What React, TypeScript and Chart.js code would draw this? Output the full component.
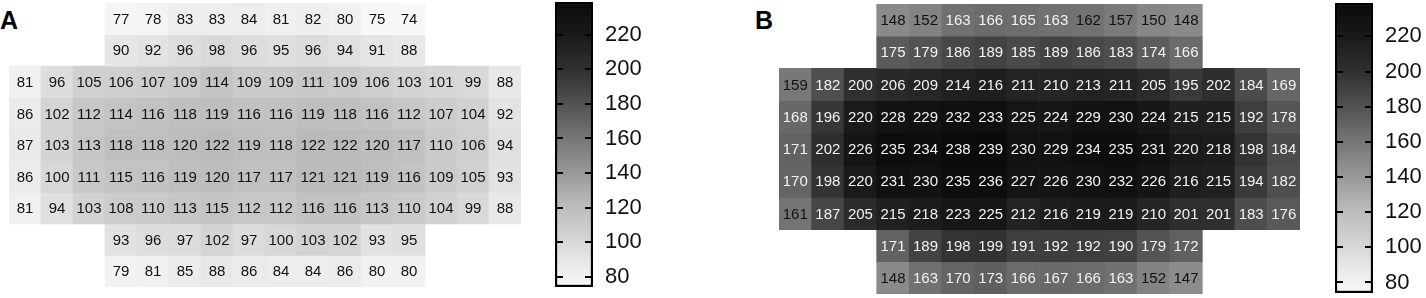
import React, { useEffect, useRef } from 'react';
import { Chart, registerables } from 'chart.js';
Chart.register(...registerables);

const FONT = '"Liberation Sans", Arial, Helvetica, sans-serif';

const COLUMNS = ['1', '2', '3', '4', '5', '6', '7', '8', '9', '10', '11', '12', '13', '14', '15', '16'];
const _ = null;

// Panel A
const A_ROW1 = [_, _, _, 77, 78, 83, 83, 84, 81, 82, 80, 75, 74, _, _, _];
const A_ROW2 = [_, _, _, 90, 92, 96, 98, 96, 95, 96, 94, 91, 88, _, _, _];
const A_ROW3 = [81, 96, 105, 106, 107, 109, 114, 109, 109, 111, 109, 106, 103, 101, 99, 88];
const A_ROW4 = [86, 102, 112, 114, 116, 118, 119, 116, 116, 119, 118, 116, 112, 107, 104, 92];
const A_ROW5 = [87, 103, 113, 118, 118, 120, 122, 119, 118, 122, 122, 120, 117, 110, 106, 94];
const A_ROW6 = [86, 100, 111, 115, 116, 119, 120, 117, 117, 121, 121, 119, 116, 109, 105, 93];
const A_ROW7 = [81, 94, 103, 108, 110, 113, 115, 112, 112, 116, 116, 113, 110, 104, 99, 88];
const A_ROW8 = [_, _, _, 93, 96, 97, 102, 97, 100, 103, 102, 93, 95, _, _, _];
const A_ROW9 = [_, _, _, 79, 81, 85, 88, 86, 84, 84, 86, 80, 80, _, _, _];

// Panel B
const B_ROW1 = [_, _, _, 148, 152, 163, 166, 165, 163, 162, 157, 150, 148, _, _, _];
const B_ROW2 = [_, _, _, 175, 179, 186, 189, 185, 189, 186, 183, 174, 166, _, _, _];
const B_ROW3 = [159, 182, 200, 206, 209, 214, 216, 211, 210, 213, 211, 205, 195, 202, 184, 169];
const B_ROW4 = [168, 196, 220, 228, 229, 232, 233, 225, 224, 229, 230, 224, 215, 215, 192, 178];
const B_ROW5 = [171, 202, 226, 235, 234, 238, 239, 230, 229, 234, 235, 231, 220, 218, 198, 184];
const B_ROW6 = [170, 198, 220, 231, 230, 235, 236, 227, 226, 230, 232, 226, 216, 215, 194, 182];
const B_ROW7 = [161, 187, 205, 215, 218, 223, 225, 212, 216, 219, 219, 210, 201, 201, 183, 176];
const B_ROW8 = [_, _, _, 171, 189, 198, 199, 191, 192, 192, 190, 179, 172, _, _, _];
const B_ROW9 = [_, _, _, 148, 163, 170, 173, 166, 167, 166, 163, 152, 147, _, _, _];

const A_ROWS = [A_ROW1, A_ROW2, A_ROW3, A_ROW4, A_ROW5, A_ROW6, A_ROW7, A_ROW8, A_ROW9];
const B_ROWS = [B_ROW1, B_ROW2, B_ROW3, B_ROW4, B_ROW5, B_ROW6, B_ROW7, B_ROW8, B_ROW9];

// Colour scale
const SCALE_MIN = 74;
const SCALE_MAX = 239;
const COLORBAR_TICKS = [80, 100, 120, 140, 160, 180, 200, 220];
const TEXT_WHITE_FROM = 163;

// colormap anchors (value -> grey level)
const CMAP_VALUES = [74, 90, 105, 122, 148, 160, 180, 200, 220, 239];
const CMAP_GREYS = [248, 230, 208, 186, 138, 118, 82, 48, 26, 10];

function greyFor(v: number): number {
  if (v <= CMAP_VALUES[0]) return CMAP_GREYS[0];
  for (let i = 1; i < CMAP_VALUES.length; i++) {
    if (v <= CMAP_VALUES[i]) {
      const t = (v - CMAP_VALUES[i - 1]) / (CMAP_VALUES[i] - CMAP_VALUES[i - 1]);
      return CMAP_GREYS[i - 1] + t * (CMAP_GREYS[i] - CMAP_GREYS[i - 1]);
    }
  }
  return CMAP_GREYS[CMAP_GREYS.length - 1];
}
function colorFor(v: number): string {
  const g = Math.round(greyFor(v));
  return `rgb(${g},${g},${g})`;
}

type HeatProps = { rows: (number | null)[][]; left: number; top: number; width: number; height: number };

function Heatmap({ rows, left, top, width, height }: HeatProps) {
  const ref = useRef<HTMLCanvasElement>(null);
  useEffect(() => {
    const canvas = ref.current!;
    const labelPlugin = {
      id: 'cellLabels',
      afterDatasetsDraw(chart: any) {
        const ctx = chart.ctx;
        ctx.save();
        ctx.font = `15px ${FONT}`;
        ctx.textAlign = 'center';
        ctx.textBaseline = 'middle';
        rows.forEach((row, r) => {
          const meta = chart.getDatasetMeta(r);
          row.forEach((v, c) => {
            if (v == null) return;
            const el = meta.data[c];
            if (!el) return;
            const p = el.getProps(['x', 'y', 'base'], true);
            ctx.fillStyle = v >= TEXT_WHITE_FROM ? '#f2f2f2' : '#111111';
            ctx.fillText(String(v), p.x, (p.y + p.base) / 2 + 1);
          });
        });
        ctx.restore();
      },
    };
    const chart = new Chart(canvas, {
      type: 'bar',
      data: {
        labels: COLUMNS,
        datasets: rows.map((row, r) => ({
          data: row.map((v) => (v == null ? null : [r, r + 1])) as any,
          backgroundColor: row.map((v) => (v == null ? 'rgba(0,0,0,0)' : colorFor(v))),
          borderWidth: 0,
          grouped: false,
          barPercentage: 1,
          categoryPercentage: 1,
        })),
      },
      options: {
        animation: false,
        responsive: false,
        maintainAspectRatio: false,
        layout: { padding: 0 },
        plugins: { legend: { display: false }, tooltip: { enabled: false } },
        scales: {
          x: { display: false },
          y: { display: false, type: 'linear', min: 0, max: rows.length, reverse: true },
        },
      },
      plugins: [labelPlugin],
    });
    return () => chart.destroy();
  }, []);
  return (
    <canvas
      ref={ref}
      width={width}
      height={height}
      style={{ position: 'absolute', left, top, width, height }}
    />
  );
}

type BarProps = { left: number; top: number; barWidth: number; height: number };

function ColorBar({ left, top, barWidth, height }: BarProps) {
  const ref = useRef<HTMLCanvasElement>(null);
  const axisWidth = 60;
  const width = barWidth + axisWidth;
  useEffect(() => {
    const canvas = ref.current!;
    const tickPlugin = {
      id: 'innerTicks',
      afterDatasetsDraw(chart: any) {
        const ctx = chart.ctx;
        const ca = chart.chartArea;
        const y = chart.scales.y;
        ctx.save();
        ctx.strokeStyle = '#000';
        ctx.lineWidth = 2;
        COLORBAR_TICKS.forEach((v) => {
          const py = Math.round(y.getPixelForValue(v));
          ctx.beginPath();
          ctx.moveTo(ca.left, py);
          ctx.lineTo(ca.left + 8, py);
          ctx.moveTo(ca.right - 8, py);
          ctx.lineTo(ca.right, py);
          ctx.stroke();
        });
        ctx.restore();
      },
    };
    const chart = new Chart(canvas, {
      type: 'bar',
      data: {
        labels: [''],
        datasets: [
          {
            data: [[SCALE_MIN, SCALE_MAX]] as any,
            backgroundColor: (c: any) => {
              const ch = c.chart;
              const ca = ch.chartArea;
              if (!ca) return '#888';
              const ys = ch.scales.y;
              const g = ch.ctx.createLinearGradient(0, ys.getPixelForValue(SCALE_MIN), 0, ys.getPixelForValue(SCALE_MAX));
              CMAP_VALUES.forEach((v) => {
                const t = (v - SCALE_MIN) / (SCALE_MAX - SCALE_MIN);
                g.addColorStop(Math.min(1, Math.max(0, t)), colorFor(v));
              });
              return g;
            },
            borderColor: '#000',
            borderWidth: 2.5,
            borderSkipped: false,
            barPercentage: 1,
            categoryPercentage: 1,
          },
        ],
      },
      options: {
        animation: false,
        responsive: false,
        maintainAspectRatio: false,
        layout: { padding: 0 },
        plugins: { legend: { display: false }, tooltip: { enabled: false } },
        scales: {
          x: { display: false },
          y: {
            position: 'right',
            min: SCALE_MIN,
            max: SCALE_MAX,
            grid: { display: false, drawTicks: false },
            border: { display: false },
            ticks: { padding: 12, color: '#111', font: { family: FONT, size: 22 } },
            afterBuildTicks: (s: any) => {
              s.ticks = COLORBAR_TICKS.map((v) => ({ value: v }));
            },
            afterFit: (s: any) => {
              s.width = axisWidth;
              s.paddingTop = 0;
              s.paddingBottom = 0;
            },
          } as any,
        },
      },
      plugins: [tickPlugin],
    });
    return () => chart.destroy();
  }, []);
  return (
    <canvas
      ref={ref}
      width={width}
      height={height}
      style={{ position: 'absolute', left, top, width, height }}
    />
  );
}

const labelStyle: React.CSSProperties = {
  position: 'absolute',
  fontFamily: FONT,
  fontWeight: 'bold',
  fontSize: 25,
  lineHeight: '25px',
  color: '#000',
};

export default function App() {
  return (
    <div
      style={{
        position: 'fixed',
        left: 0,
        top: 0,
        width: 1426,
        height: 298,
        background: '#fff',
        overflow: 'hidden',
      }}
    >
      <div style={{ ...labelStyle, left: 0, top: 8 }}>A</div>
      <Heatmap rows={A_ROWS} left={9} top={3} width={512} height={284} />
      <ColorBar left={555} top={2} barWidth={38} height={285} />
      <div style={{ ...labelStyle, left: 755, top: 8 }}>B</div>
      <Heatmap rows={B_ROWS} left={779} top={4} width={521} height={290} />
      <ColorBar left={1335} top={3} barWidth={38} height={290} />
    </div>
  );
}
